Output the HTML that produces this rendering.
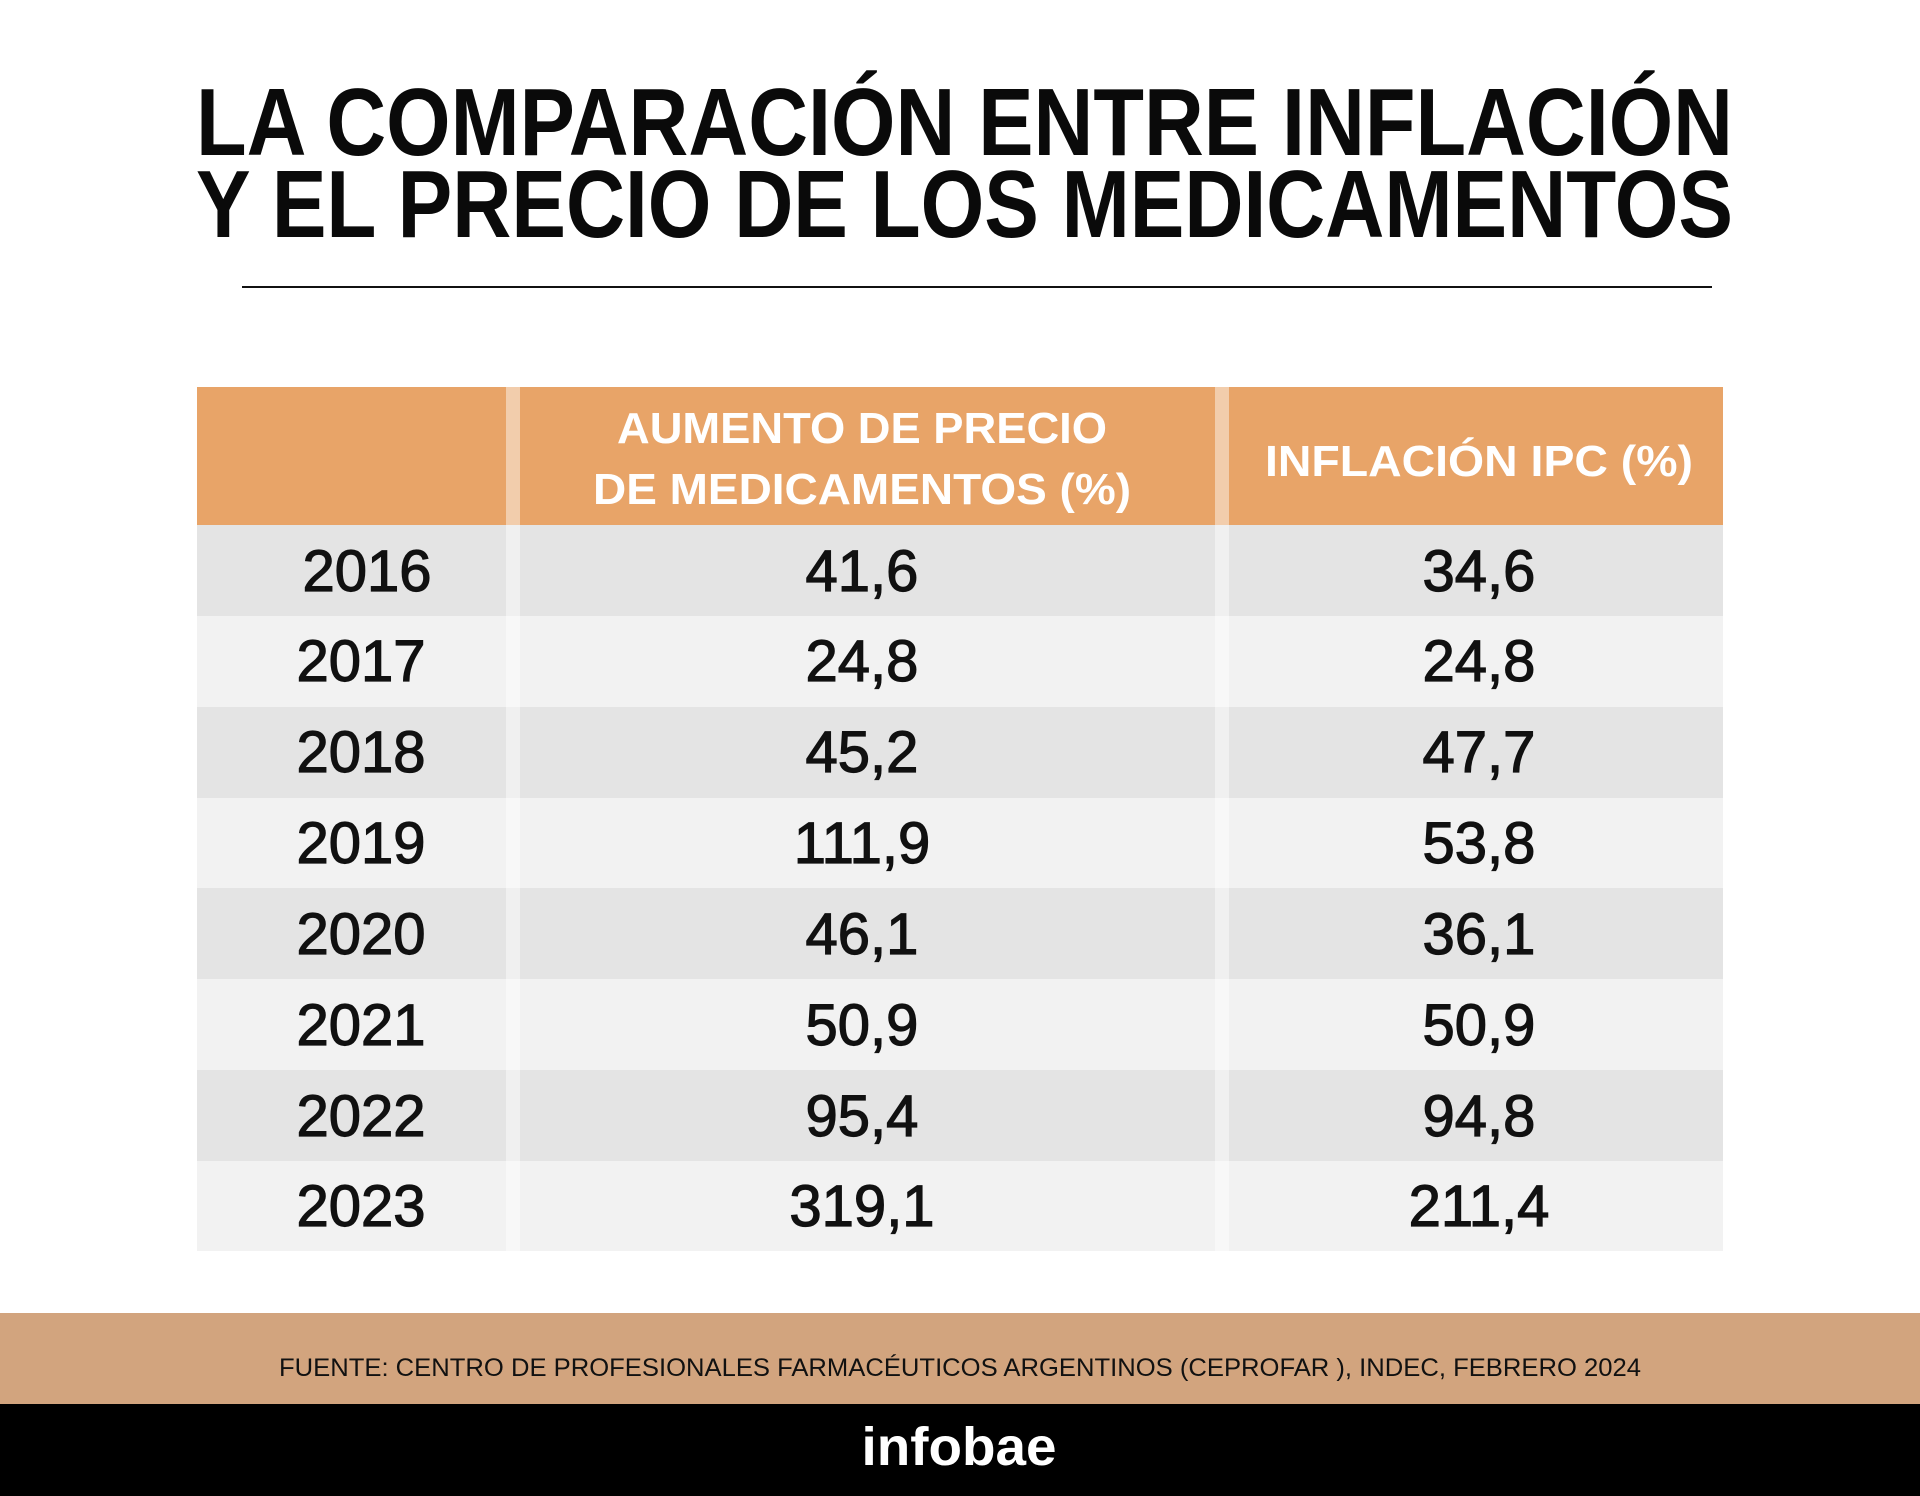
<!DOCTYPE html>
<html><head><meta charset="utf-8"><style>html,body{margin:0;padding:0;background:#fff}svg{display:block}</style></head>
<body>
<svg width="1920" height="1496" viewBox="0 0 1920 1496" xmlns="http://www.w3.org/2000/svg" font-family="Liberation Sans, Arial, sans-serif">
<rect width="1920" height="1496" fill="#fff"/>
<g font-weight="bold" fill="#0a0a0a" font-size="96">
<text x="196" y="155" textLength="1537" lengthAdjust="spacingAndGlyphs">LA COMPARACIÓN ENTRE INFLACIÓN</text>
<text x="196" y="237" textLength="1537" lengthAdjust="spacingAndGlyphs">Y EL PRECIO DE LOS MEDICAMENTOS</text>
</g>
<rect x="242" y="286" width="1470" height="2" fill="#111"/>
<rect x="197" y="387" width="1526" height="138" fill="#E8A468"/>
<g>
<rect x="197" y="525" width="1526" height="91" fill="#E4E4E4"/>
<rect x="197" y="616" width="1526" height="91" fill="#F2F2F2"/>
<rect x="197" y="707" width="1526" height="91" fill="#E4E4E4"/>
<rect x="197" y="798" width="1526" height="90" fill="#F2F2F2"/>
<rect x="197" y="888" width="1526" height="91" fill="#E4E4E4"/>
<rect x="197" y="979" width="1526" height="91" fill="#F2F2F2"/>
<rect x="197" y="1070" width="1526" height="91" fill="#E4E4E4"/>
<rect x="197" y="1161" width="1526" height="90" fill="#F2F2F2"/>
</g>
<rect x="506" y="385" width="14" height="895" fill="#fff" opacity="0.45"/>
<rect x="1215" y="385" width="14" height="895" fill="#fff" opacity="0.45"/>
<g fill="#fff" font-weight="bold" font-size="44" text-anchor="middle">
<text x="862" y="443" textLength="490" lengthAdjust="spacingAndGlyphs">AUMENTO DE PRECIO</text>
<text x="862" y="504" textLength="538" lengthAdjust="spacingAndGlyphs">DE MEDICAMENTOS (%)</text>
<text x="1479" y="476" textLength="428" lengthAdjust="spacingAndGlyphs">INFLACIÓN IPC (%)</text>
</g>
<g fill="#111" stroke="#111" stroke-width="1.2" font-size="58" text-anchor="middle">
<text x="367" y="591">2016</text><text x="862" y="591">41,6</text><text x="1479" y="591">34,6</text>
<text x="361" y="681">2017</text><text x="862" y="681">24,8</text><text x="1479" y="681">24,8</text>
<text x="361" y="772">2018</text><text x="862" y="772">45,2</text><text x="1479" y="772">47,7</text>
<text x="361" y="863">2019</text><text x="862" y="863">111,9</text><text x="1479" y="863">53,8</text>
<text x="361" y="954">2020</text><text x="862" y="954">46,1</text><text x="1479" y="954">36,1</text>
<text x="361" y="1045">2021</text><text x="862" y="1045">50,9</text><text x="1479" y="1045">50,9</text>
<text x="361" y="1136">2022</text><text x="862" y="1136">95,4</text><text x="1479" y="1136">94,8</text>
<text x="361" y="1226">2023</text><text x="862" y="1226">319,1</text><text x="1479" y="1226">211,4</text>
</g>
<rect x="0" y="1313" width="1920" height="92" fill="#D2A47E"/>
<text x="960" y="1376" font-size="25" fill="#111" text-anchor="middle" textLength="1362" lengthAdjust="spacingAndGlyphs">FUENTE:  CENTRO DE PROFESIONALES FARMACÉUTICOS ARGENTINOS (CEPROFAR ), INDEC, FEBRERO 2024</text>
<rect x="0" y="1404" width="1920" height="92" fill="#000"/>
<text x="959" y="1465" font-size="54" font-weight="bold" fill="#fff" text-anchor="middle" textLength="195" lengthAdjust="spacingAndGlyphs">infobae</text>
</svg>
</body></html>
